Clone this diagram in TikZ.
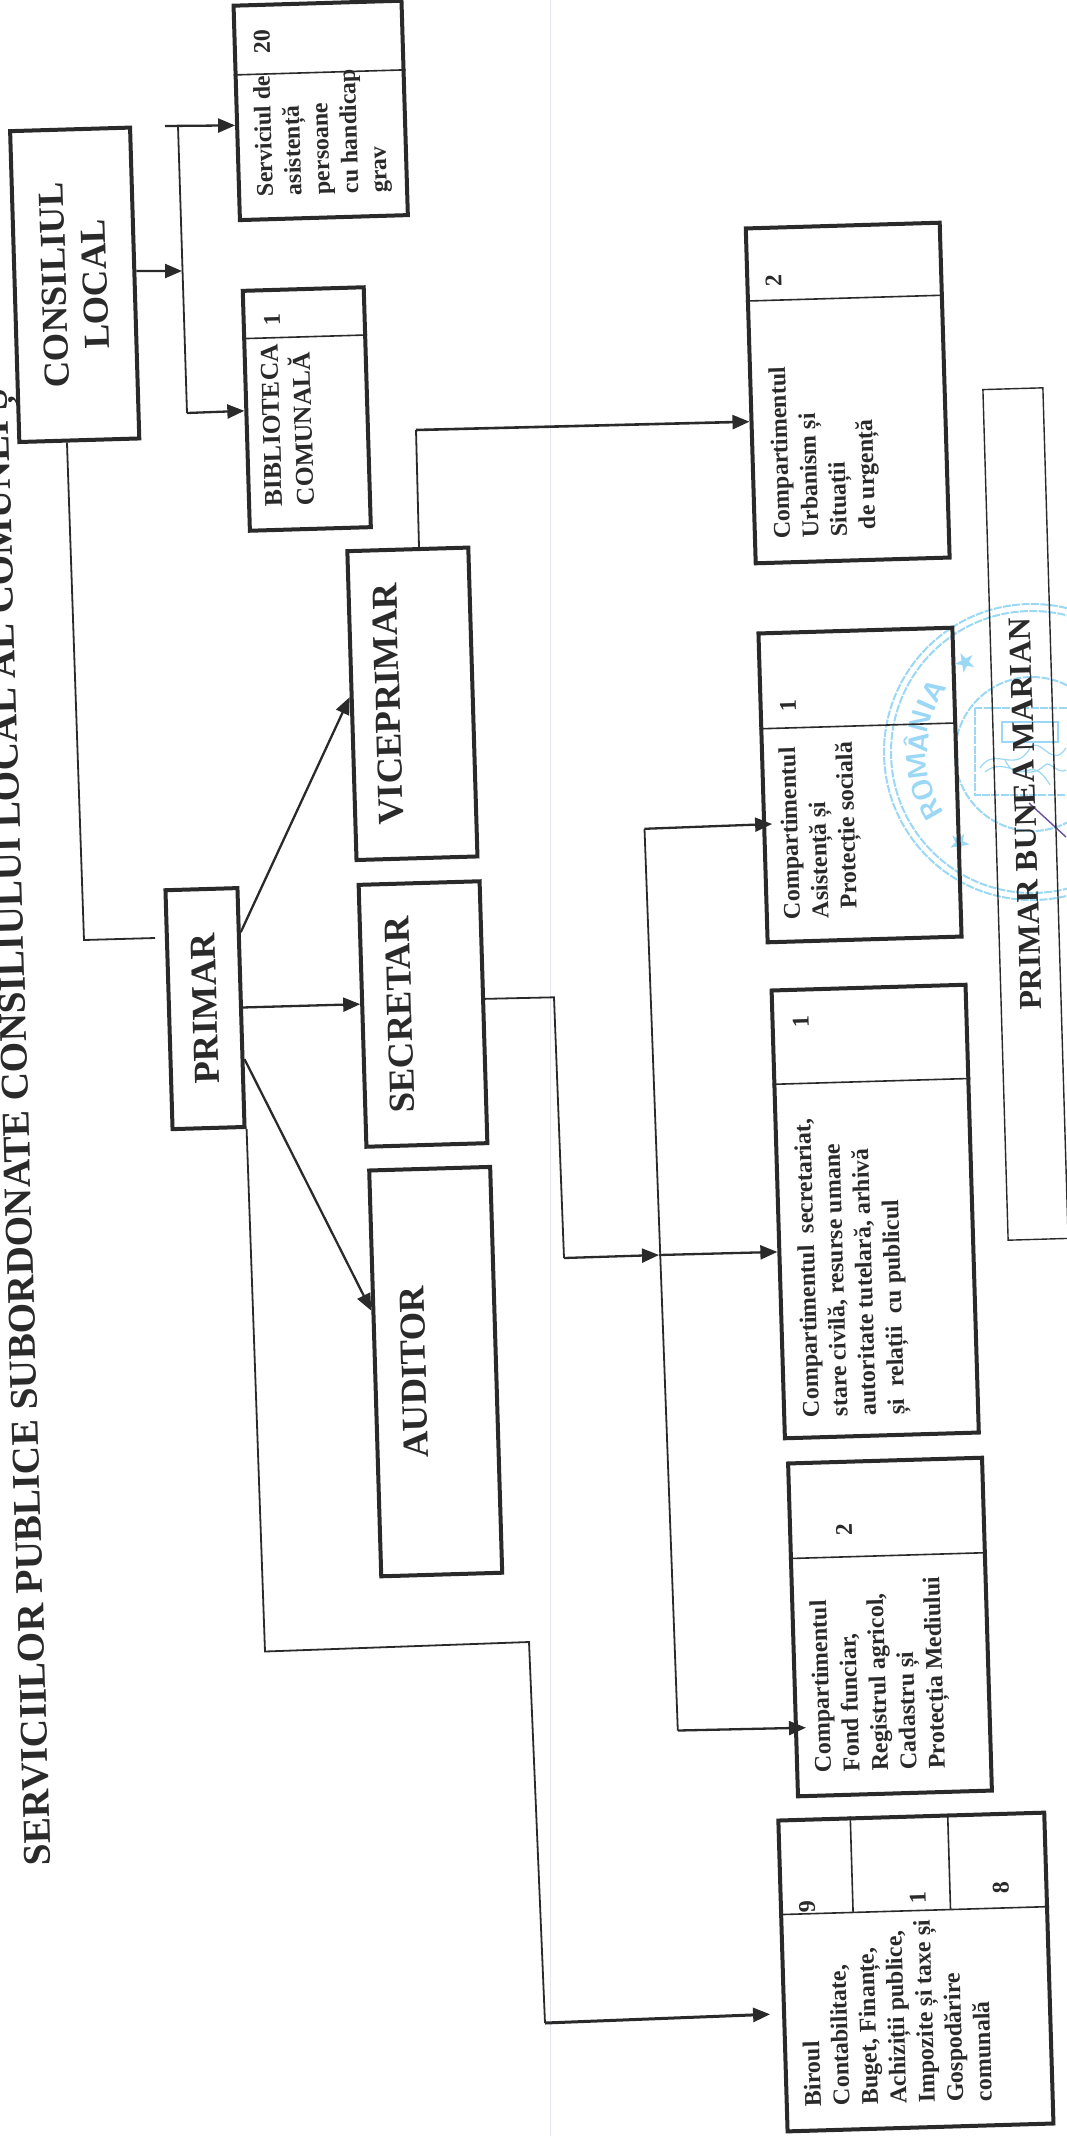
\documentclass[tikz,border=0pt]{standalone}
\usepackage{fontspec}
\setmainfont{Liberation Serif}
\newfontfamily\starfont{DejaVu Sans}
\usetikzlibrary{calc,arrows.meta}
\definecolor{ink}{HTML}{2A2A2A}
\definecolor{stampblue}{HTML}{9AD8F5}
\definecolor{foldline}{HTML}{E4E4F2}
\definecolor{signviolet}{HTML}{6A4FA0}
\tikzset{
  x=0.5pt,y=0.5pt,
  boxst/.style={draw=ink,line width=2pt,rotate=91.7,inner sep=0pt,font=\bfseries\fontsize{18.3}{20.5}\selectfont,text=ink,align=center},
  bigtxt/.style={rotate=91.7,inner sep=0pt,font=\bfseries\fontsize{18.3}{20.5}\selectfont,text=ink},
  divider/.style={draw=ink,line width=0.8pt},
  conn/.style={draw=ink,line width=0.9pt},
  arr/.style={draw=ink,line width=1.15pt,-{Triangle[length=8.5pt,width=7pt]}},
  txt/.style={rotate=91.7,inner sep=0pt,anchor=north west,align=left,text=ink,font=\bfseries\fontsize{12}{14.25}\selectfont},
  num/.style={rotate=91.7,inner sep=0pt,text=ink,font=\bfseries\fontsize{12}{14}\selectfont},
  stampline/.style={draw=stampblue,line width=1pt,dash pattern=on 4pt off 0.7pt},
  stampfine/.style={draw=stampblue,line width=0.6pt},
  stamptext/.style={inner sep=0pt,text=stampblue,font=\sffamily\bfseries\fontsize{14}{15}\selectfont}
}
\newcommand{\orgbox}[6]{\node[boxst,minimum width=#4*0.5pt,minimum height=#5*0.5pt] (#1) at (#2,-#3) {#6};}
\begin{document}
\begin{tikzpicture}
\useasboundingbox (0,0) rectangle (1066,-2136);
\fill[white] (0,0) rectangle (1066,-2136);
\draw[foldline,line width=0.6pt] (550.5,0) -- (550.5,-2136);
% stamp
\draw[stampline] (1032,-752) circle[radius=148];
\draw[stampline] (1032,-752) circle[radius=141];
\draw[stampline] (1032,-754) circle[radius=77];
\draw[stampline] (975,-708) rectangle (1089,-795);
\draw[stampfine] (1002,-722) rectangle (1058,-742);
\draw[stampfine] (980,-768) .. controls (995,-745) and (1015,-775) .. (1030,-748) .. controls (1040,-735) and (1052,-770) .. (1066,-748);
\draw[stampfine] (985,-772) .. controls (1005,-755) and (1025,-785) .. (1045,-765) .. controls (1050,-760) and (1058,-775) .. (1066,-770);
\draw[stampfine] (1005,-760) .. controls (1020,-790) and (1030,-750) .. (1050,-785);
\foreach \l/\a [count=\i] in {R/210,O/199.5,M/187,Â/175,N/164.5,I/156,A/148}{
  \pgfmathsetmacro{\rr}{\a-90}
  \node[stamptext,rotate=\rr] (stamp\i) at ($(1032,-752)+(\a:116)$) {\l};
}
\node[stamptext,rotate=-45,font=\fontsize{13}{13}\selectfont\starfont] (stampstarA) at (966,-662) {★};
\node[stamptext,rotate=45,font=\fontsize{13}{13}\selectfont\starfont] (stampstarB) at (959,-843) {★};
\draw[signviolet,line width=0.7pt] (1029,-803) -- (1066,-837);
% title
\node[rotate=91.7,anchor=base west,inner sep=0pt,text=ink,font=\bfseries\fontsize{19.6}{21}\selectfont] (title) at (51,-1866) {SERVICIILOR PUBLICE SUBORDONATE CONSILIULUI LOCAL AL COMUNEI Ș};
% boxes
\orgbox{cons}{74.7}{284.8}{311}{120}{CONSILIUL\\LOCAL}
\orgbox{serv}{320.7}{110.4}{214.5}{168}{}
\orgbox{bibl}{306.8}{409}{240}{121}{}
\orgbox{primar}{205}{1008.6}{239}{72}{PRIMAR}
\orgbox{vice}{412.4}{703.8}{309}{121}{}
\orgbox{secr}{423}{1014}{262}{121}{}
\orgbox{audit}{435.7}{1371.6}{406}{121}{}
\orgbox{urb}{847.7}{393}{335}{194}{}
\orgbox{asist}{860}{785}{309}{194}{}
\orgbox{scrt}{875.2}{1211.5}{448}{194}{}
\orgbox{fond}{890}{1627}{333}{194}{}
\orgbox{birou}{915.9}{1972}{311}{266}{}
\node[bigtxt] (viceT) at (388,-704) {VICEPRIMAR};
\node[bigtxt] (secrT) at (400,-1015) {SECRETAR};
\node[bigtxt] (auditT) at (414,-1372) {AUDITOR};
\node[boxst,draw=ink,line width=0.7pt,minimum width=851*0.5pt,minimum height=60*0.5pt,font=\bfseries\fontsize{15.9}{18}\selectfont] (sign) at (1025.5,-814) {PRIMAR BUNEA MARIAN};
% dividers
\foreach \n/\t in {serv/.674,bibl/.796,urb/.78,asist/.689,scrt/.788,fond/.712,birou/.695}{
  \coordinate (\n L) at ($(\n.north west)!\t!(\n.north east)$);
  \coordinate (\n R) at ($(\n.south west)!\t!(\n.south east)$);
  \draw[divider] (\n L) -- (\n R);
}
\draw[divider] ($(birou.north east)!.274!(birou.south east)$) -- ($(birouL)!.274!(birouR)$);
\draw[divider] ($(birou.north east)!.635!(birou.south east)$) -- ($(birouL)!.635!(birouR)$);
% texts
\node[txt] (servT) at (256,-197) {Serviciul de\\asistență\\persoane\\cu handicap\\grav};
\node[txt,font=\bfseries\fontsize{12.8}{16}\selectfont] (biblT) at (265,-507) {BIBLIOTECA\\COMUNALĂ};
\node[txt] (urbT) at (773,-539.5) {Compartimentul\\Urbanism și\\Situații\\\hspace*{3.5pt}de urgență};
\node[txt] (asistT) at (783,-920) {Compartimentul\\Asistență și\\\hspace*{4.5pt}Protecție socială};
\node[txt] (scrtT) at (802,-1418) {Compartimentul\ \ secretariat,\\stare civilă, resurse umane\\autoritate tutelară, arhivă\\și\ \ relații\ \ cu publicul};
\node[txt] (fondT) at (814,-1773) {Compartimentul\\Fond funciar,\\Registrul agricol,\\Cadastru și\\Protecția Mediului};
\node[txt] (birouT) at (804,-2107) {Biroul\\Contabilitate,\\Buget, Finanțe,\\Achiziții publice,\\Impozite și taxe și\\Gospodărire\\comunală};
% numbers
\node[num] (servN) at (262,-42) {20};
\node[num] (biblN) at (272,-320) {1};
\node[num] (urbN) at (773.6,-281) {2};
\node[num] (asistN) at (788,-706) {1};
\node[num] (scrtN) at (800.8,-1021.7) {1};
\node[num] (fondN) at (844,-1529.4) {2};
\node[num] (birouNa) at (807,-1907) {9};
\node[num] (birouNb) at (917.7,-1898) {1};
\node[num] (birouNc) at (1000.7,-1887.5) {8};
% connectors: CONSILIUL group
\coordinate (busT) at (178,-126);
\coordinate (stub) at (165,-126);
\coordinate (busB) at (187,-413);
\coordinate (busM) at (182,-271);
\draw[arr] ($(cons.south west)!.538!(cons.south east)$) -- (busM);
\draw[conn] (busT) -- (busB);
\draw[arr] (stub) -- ($(serv.north west)!.443!(serv.north east)$);
\draw[arr] (busB) -- (bibl.north);
\coordinate (consBend) at (84,-940);
\coordinate (consEnd) at (155,-938);
\draw[conn] ($(cons.north west)!.40!(cons.south west)$) -- (consBend) -- (consEnd);
% PRIMAR outgoing
\draw[arr] ($(primar.south west)!.81!(primar.south east)$) -- ($(vice.north west)!.527!(vice.north east)$);
\draw[arr] (primar.south) -- ($(secr.north west)!.544!(secr.north east)$);
\draw[arr] ($(primar.south west)!.287!(primar.south east)$) -- ($(audit.north west)!.653!(audit.north east)$);
\coordinate (pb1) at (265,-1651.5);
\coordinate (pb2) at (529,-1642);
\coordinate (pb3) at (545,-2023);
\draw[conn] (primar.south west) -- (pb1) -- (pb2) -- (pb3);
\draw[arr,shorten >=6pt,line width=1.5pt] (pb3) -- ($(birou.north west)!.38!(birou.north east)$);
% VICEPRIMAR
\coordinate (vb1) at (416,-430);
\draw[conn] ($(vice.north east)!.59!(vice.south east)$) -- (vb1);
\draw[arr,line width=1.3pt] (vb1) -- ($(urb.north west)!.424!(urb.north east)$);
% SECRETAR
\coordinate (sb1) at (554,-997.3);
\coordinate (sb2) at (564,-1258);
\coordinate (busS) at (659,-1255);
\coordinate (busA) at (644.5,-828.8);
\coordinate (busF) at (677.8,-1730.5);
\draw[conn] ($(secr.south west)!.55!(secr.south east)$) -- (sb1) -- (sb2);
\draw[arr] (sb2) -- (busS);
\draw[conn] (busA) -- (busF);
\draw[arr,shorten >=-5pt] (busA) -- ($(asist.north west)!.3835!(asist.north east)$);
\draw[arr] (busS) -- ($(scrt.north west)!.417!(scrt.north east)$);
\draw[arr,shorten >=-6pt] (busF) -- ($(fond.north west)!.209!(fond.north east)$);
\end{tikzpicture}
\end{document}
